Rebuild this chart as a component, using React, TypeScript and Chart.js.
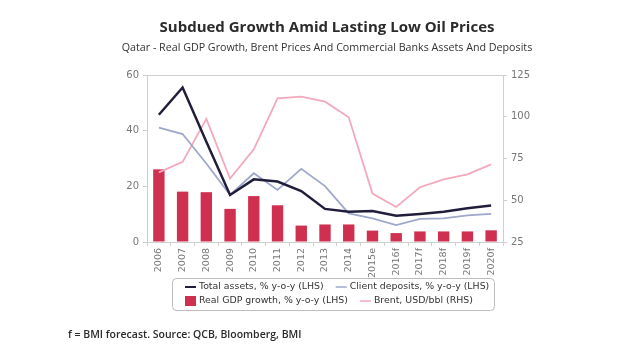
import React, { useEffect, useRef } from "react";
import { Chart, registerables } from "chart.js";

Chart.register(...registerables);

const categories = ["2006", "2007", "2008", "2009", "2010", "2011", "2012", "2013", "2014", "2015e", "2016f", "2017f", "2018f", "2019f", "2020f"];
const realGdpGrowth = [26.1, 18.1, 17.9, 11.9, 16.5, 13.2, 5.9, 6.3, 6.3, 4.1, 3.2, 3.8, 3.8, 3.8, 4.2];
const totalAssets = [45.7, 55.5, 36.0, 16.9, 22.5, 21.7, 18.3, 11.9, 10.9, 11.1, 9.4, 10.1, 10.9, 12.1, 13.1];
const clientDeposits = [41.1, 38.8, 28.2, 16.9, 24.7, 18.7, 26.3, 20.1, 10.3, 8.5, 6.1, 8.3, 8.5, 9.6, 10.1];
const brentPrice = [66.7, 73.0, 98.7, 63.0, 80.5, 111.0, 112.0, 109.0, 99.7, 54.0, 46.0, 57.8, 62.5, 65.5, 71.5];
const lhsTicks = [0, 20, 40, 60];
const rhsTicks = [25, 50, 75, 100, 125];

const TITLE = "Subdued Growth Amid Lasting Low Oil Prices";
const SUBTITLE = "Qatar - Real GDP Growth, Brent Prices And Commercial Banks Assets And Deposits";
const FOOTER = "f = BMI forecast. Source: QCB, Bloomberg, BMI";

const C_BAR = "#d0304f";
const C_ASSETS = "#211e3c";
const C_DEPOSITS = "#9ea8ca";
const C_BRENT = "#f3a9bb";
const C_AXIS = "#cfcfcf";
const C_TICK = "#777777";

const decorPlugin = {
  id: "decor",
  afterDraw(chart: any) {
    const ctx = chart.ctx as CanvasRenderingContext2D;
    const a = chart.chartArea;
    ctx.save();
    ctx.strokeStyle = C_AXIS;
    ctx.lineWidth = 1;
    ctx.beginPath();
    ctx.moveTo(a.left, a.top + 0.5);
    ctx.lineTo(a.right, a.top + 0.5);
    ctx.stroke();

    ctx.fillStyle = "#2b2b2b";
    ctx.textAlign = "center";
    ctx.textBaseline = "middle";
    ctx.font = "bold 15px 'Open Sans'";
    ctx.fillText(TITLE, 327, 28);
    ctx.fillStyle = "#333333";
    ctx.font = "10.7px 'Open Sans'";
    ctx.fillText(SUBTITLE, 327, 48);

    ctx.textAlign = "left";
    ctx.fillStyle = "#2b2b2b";
    ctx.font = "600 10.5px 'Open Sans'";
    ctx.fillText(FOOTER, 68, 335);

    const bx = 172, by = 278, bw = 322, bh = 32, r = 4;
    ctx.strokeStyle = "#bdbdbd";
    ctx.lineWidth = 1;
    ctx.beginPath();
    ctx.moveTo(bx + r, by + 0.5);
    ctx.lineTo(bx + bw - r, by + 0.5);
    ctx.arcTo(bx + bw + 0.5, by + 0.5, bx + bw + 0.5, by + r, r);
    ctx.lineTo(bx + bw + 0.5, by + bh - r);
    ctx.arcTo(bx + bw + 0.5, by + bh + 0.5, bx + bw - r, by + bh + 0.5, r);
    ctx.lineTo(bx + r, by + bh + 0.5);
    ctx.arcTo(bx + 0.5, by + bh + 0.5, bx + 0.5, by + bh - r, r);
    ctx.lineTo(bx + 0.5, by + r);
    ctx.arcTo(bx + 0.5, by + 0.5, bx + r, by + 0.5, r);
    ctx.closePath();
    ctx.stroke();

    ctx.font = "9.4px 'DejaVu Sans'";
    ctx.textBaseline = "middle";
    ctx.fillStyle = "#333333";
    const rows = [
      [
        { label: "Total assets, % y-o-y (LHS)", type: "line", color: C_ASSETS, w: 2 },
        { label: "Client deposits, % y-o-y (LHS)", type: "line", color: C_DEPOSITS, w: 1.5 },
      ],
      [
        { label: "Real GDP growth, % y-o-y (LHS)", type: "box", color: C_BAR, w: 0 },
        { label: "Brent, USD/bbl (RHS)", type: "line", color: C_BRENT, w: 1.5 },
      ],
    ];
    const rowY = [287, 301];
    rows.forEach((row, ri) => {
      let x = 185;
      const y = rowY[ri];
      row.forEach((it) => {
        if (it.type === "line") {
          ctx.strokeStyle = it.color;
          ctx.lineWidth = it.w;
          ctx.beginPath();
          ctx.moveTo(x, y);
          ctx.lineTo(x + 11, y);
          ctx.stroke();
        } else {
          ctx.fillStyle = it.color;
          ctx.fillRect(x, y - 5, 11, 10);
        }
        x += 14;
        ctx.fillStyle = "#333333";
        ctx.fillText(it.label, x, y);
        x += ctx.measureText(it.label).width + 12;
      });
    });
    ctx.restore();
  },
};

export default function App() {
  const ref = useRef<HTMLCanvasElement | null>(null);
  useEffect(() => {
    if (!ref.current) return;
    const chart = new Chart(ref.current, {
      type: "bar",
      data: {
        labels: categories,
        datasets: [
          {
            type: "line",
            label: "Total assets, % y-o-y (LHS)",
            data: totalAssets,
            borderColor: C_ASSETS,
            borderWidth: 2.5,
            pointRadius: 0,
            tension: 0,
            yAxisID: "y",
            order: 0,
          } as any,
          {
            type: "line",
            label: "Client deposits, % y-o-y (LHS)",
            data: clientDeposits,
            borderColor: C_DEPOSITS,
            borderWidth: 1.8,
            pointRadius: 0,
            tension: 0,
            yAxisID: "y",
            order: 1,
          },
          {
            type: "line",
            label: "Brent, USD/bbl (RHS)",
            data: brentPrice,
            borderColor: C_BRENT,
            borderWidth: 1.8,
            pointRadius: 0,
            tension: 0,
            yAxisID: "y1",
            order: 2,
          },
          {
            type: "bar",
            label: "Real GDP growth, % y-o-y (LHS)",
            data: realGdpGrowth,
            backgroundColor: C_BAR,
            barPercentage: 0.48,
            categoryPercentage: 1,
            yAxisID: "y",
            order: 3,
          },
        ],
      },
      options: {
        responsive: false,
        animation: false,
        devicePixelRatio: 1,
        layout: { padding: { top: 75, left: 0, right: 0, bottom: 0 } },
        plugins: {
          legend: { display: false },
          title: { display: false },
          tooltip: { enabled: false },
        },
        scales: {
          x: {
            grid: { display: true, drawOnChartArea: false, drawTicks: true, tickLength: 4, color: C_AXIS, offset: true },
            border: { display: true, color: C_AXIS },
            ticks: {
              autoSkip: false,
              minRotation: 90,
              maxRotation: 90,
              padding: 2,
              color: C_TICK,
              font: { family: "'DejaVu Sans'", size: 9.5 },
            },
            afterFit: (s: any) => {
              s.height = 113;
            },
          },
          y: {
            position: "left",
            min: 0,
            max: 60,
            afterBuildTicks: (s: any) => {
              s.ticks = lhsTicks.map((v) => ({ value: v }));
            },
            grid: { display: true, drawOnChartArea: false, drawTicks: true, tickLength: 4, color: C_AXIS },
            border: { display: true, color: C_AXIS },
            ticks: { color: C_TICK, padding: 4, font: { family: "'DejaVu Sans'", size: 10 } },
            afterFit: (s: any) => {
              s.width = 147;
            },
          },
          y1: {
            position: "right",
            min: 25,
            max: 125,
            afterBuildTicks: (s: any) => {
              s.ticks = rhsTicks.map((v) => ({ value: v }));
            },
            grid: { display: true, drawOnChartArea: false, drawTicks: true, tickLength: 4, color: C_AXIS },
            border: { display: true, color: C_AXIS },
            ticks: { color: C_TICK, padding: 4, font: { family: "'DejaVu Sans'", size: 10 } },
            afterFit: (s: any) => {
              s.width = 117;
            },
          },
        },
      },
      plugins: [decorPlugin],
    });
    return () => chart.destroy();
  }, []);
  return (
    <div style={{ position: "fixed", left: 0, top: 0, width: 620, height: 355, background: "#fff" }}>
      <canvas ref={ref} width={620} height={355} style={{ width: 620, height: 355, display: "block" }} />
    </div>
  );
}
